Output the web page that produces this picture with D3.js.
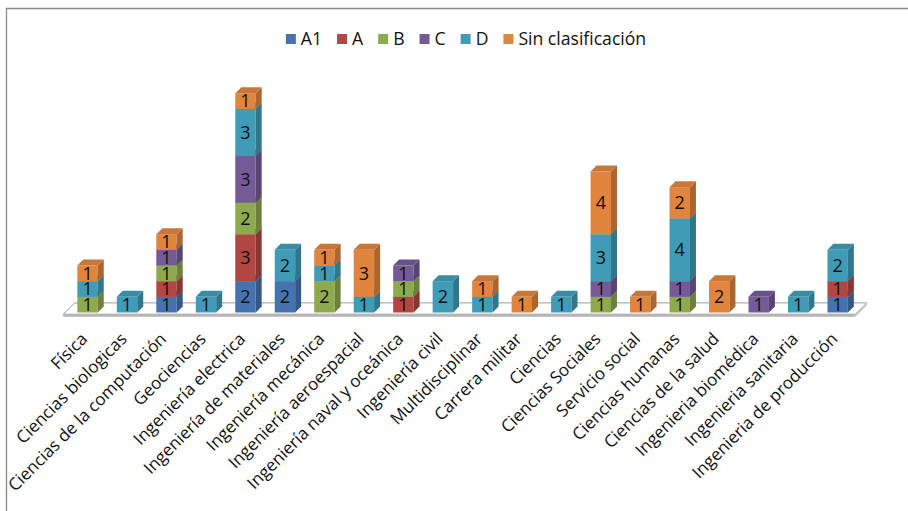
<!DOCTYPE html>
<html><head><meta charset="utf-8">
<script src="https://cdn.jsdelivr.net/npm/d3@7"></script>
<style>
html,body{margin:0;padding:0;background:#fff;}
svg{display:block;font-family:"Open Sans",sans-serif;}
</style></head>
<body><svg id="c" width="908" height="511"></svg>
<script>
const categories = ["Física","Ciencias biologicas","Ciencias de la computación","Geociencias","Ingeniería electrica","Ingeniería de materiales","Ingeniería mecánica","Ingeniería aeroespacial","Ingeniería naval y oceánica","Ingeniería civil","Multidisciplinar","Carrera militar","Ciencias","Ciencias Sociales","Servicio social","Ciencias humanas","Ciencias de la salud","Ingenieria biomédica","Ingenieria sanitaria","Ingenieria de producción"];
const seriesNames = ["A1","A","B","C","D","Sin clasificación"];
const A1  = [0,0,1,0,2,2,0,0,0,0,0,0,0,0,0,0,0,0,0,1];
const A   = [0,0,1,0,3,0,0,0,1,0,0,0,0,0,0,0,0,0,0,1];
const B   = [1,0,1,0,2,0,2,0,1,0,0,0,0,1,0,1,0,0,0,0];
const C   = [0,0,1,0,3,0,0,0,1,0,0,0,0,1,0,1,0,1,0,0];
const D   = [1,1,0,1,3,2,1,1,0,2,1,0,1,3,0,4,0,0,1,2];
const SC  = [1,0,1,0,1,0,1,3,0,0,1,1,0,4,1,2,2,0,0,0];
const seriesValues = [A1,A,B,C,D,SC];
const colors = ["#4673B0","#B24642","#8DAA4F","#745A97","#409BB6","#E0843E"];

const svg = d3.select("#c");

// frame
svg.append("path").attr("d","M6.5,511 L6.5,8.5 L908,8.5").attr("fill","none").attr("stroke","#8a8a8a").attr("stroke-width",1.3);

const rows = categories.map((c,i)=>{const o={cat:c}; seriesNames.forEach((s,k)=>o[s]=seriesValues[k][i]); return o;});
const stack = d3.stack().keys(seriesNames)(rows);

const x = d3.scaleBand().domain(categories).range([67.8,857.4]).paddingInner(0.483).paddingOuter(0.2415);
const y = d3.scaleLinear().domain([0,14]).range([312.5,93.2]);
const dx = 6, dy = 6;

// floor
const fl = x.range()[0]-4.5, fr = x.range()[1]-2, fy = 314.2, fd = 11.3;
svg.append("polygon").attr("points",[[fl,fy],[fl+fd,fy-fd],[fr+fd,fy-fd],[fr,fy]].join(" "))
  .attr("fill","#fff").attr("stroke","#9c9c9c").attr("stroke-width",1);
svg.append("polygon").attr("points",[[fl,fy],[fr,fy],[fr,fy+2.5],[fl,fy+2.5]].join(" ")).attr("fill","#b4b4b4");
svg.append("polygon").attr("points",[[fr,fy],[fr+fd,fy-fd],[fr+fd,fy-fd+2.5],[fr,fy+2.5]].join(" ")).attr("fill","#c4c4c4");

const bw = x.bandwidth();
const g = svg.append("g");
categories.forEach((cat,i)=>{
  stack.forEach((layer,k)=>{
    const d = layer[i];
    if (d[1]-d[0] <= 0) return;
    const x0 = x(cat), x1 = x0+bw, yt = y(d[1]), yb = y(d[0]);
    const base = d3.color(colors[k]);
    const side = base.darker(0.75), top = base.darker(0.3);
    g.append("polygon").attr("points",[[x0,yb],[x0,yt],[x1,yt],[x1,yb]].join(" ")).attr("fill",base);
    g.append("polygon").attr("points",[[x1,yb],[x1,yt],[x1+dx,yt-dy],[x1+dx,yb-dy]].join(" ")).attr("fill",side);
    g.append("polygon").attr("points",[[x0,yt],[x0+dx,yt-dy],[x1+dx,yt-dy],[x1,yt]].join(" ")).attr("fill",top);
  });
});
// data labels (on top of all shapes)
categories.forEach((cat,i)=>{
  stack.forEach((layer,k)=>{
    const d = layer[i];
    if (d[1]-d[0] <= 0) return;
    g.append("text").attr("x",x(cat)+bw/2).attr("y",(y(d[1])+y(d[0]))/2+6.3).attr("text-anchor","middle")
      .attr("font-size",18).attr("fill","#111").text(d[1]-d[0]);
  });
});

// category labels
categories.forEach(cat=>{
  const cx = x(cat)+bw/2;
  svg.append("text").attr("transform",`translate(${cx+1},340) rotate(-45)`)
    .attr("text-anchor","end").attr("font-size",17).attr("fill","#111").text(cat);
});

// legend
const lg = svg.append("g");
let lx = 0;
seriesNames.forEach((s,k)=>{
  lg.append("rect").attr("x",lx).attr("y",34).attr("width",10).attr("height",10).attr("fill",colors[k]);
  const t = lg.append("text").attr("x",lx+15).attr("y",45).attr("font-size",17.6).attr("fill","#111").text(s);
  lx += 15 + t.node().getComputedTextLength() + 15;
});
lx -= 15;
lg.attr("transform",`translate(${466 - lx/2},0)`);
</script></body></html>
